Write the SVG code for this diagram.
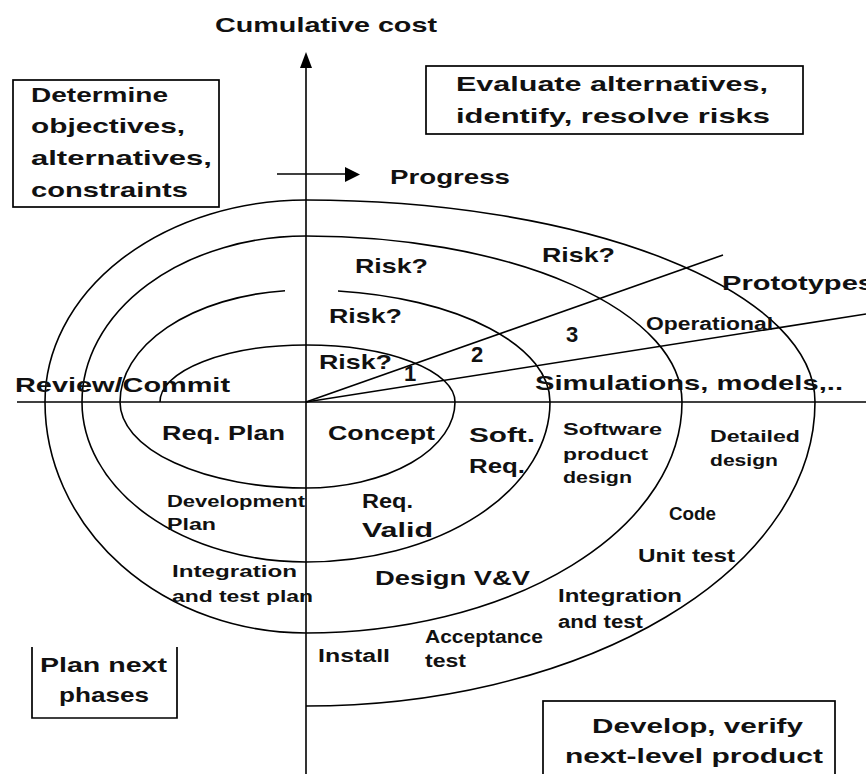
<svg xmlns="http://www.w3.org/2000/svg" width="866" height="774" viewBox="0 0 866 774">
  <style>
    .ln { fill: none; stroke: #000; stroke-width: 1.6; }
    .box { fill: none; stroke: #000; stroke-width: 1.7; }
    text { font-family: "Liberation Sans", Arial, sans-serif; font-weight: bold; fill: #111; }
    .lg { font-size: 21px; }
    .md { font-size: 18px; }
    .sm { font-size: 16px; }
    .num { font-size: 22px; }
  </style>
  <rect width="866" height="774" fill="#fff"/>

  <!-- axes, spiral and radial lines -->
  <g id="connectors">
    <path class="ln" d="M306,774 V66"/>
    <path d="M300,68 L306,52 L312,68 Z" fill="#000"/>
    <path class="ln" d="M17,402 H866"/>
    <path class="ln" d="M277,174 H348"/>
    <path d="M345,167 L360,174.5 L345,182 Z" fill="#000"/>
    <!-- clockwise spiral built from quarter ellipses around the origin -->
    <path class="ln" d="M160,402 A146,57 0 0 1 306,345 A149,57 0 0 1 455,402 A149,86 0 0 1 306,488 A186,86 0 0 1 120,402 A186,112 0 0 1 285,290.7"/>
    <path class="ln" d="M338,291 A244,112 0 0 1 550,402 A244,160 0 0 1 306,562 A224,160 0 0 1 82,402 A224,166 0 0 1 306,236 A376,166 0 0 1 682,402 A376,231 0 0 1 306,633 A261,231 0 0 1 45,402 A261,202 0 0 1 306,200 A509,202 0 0 1 815,402 A509,304 0 0 1 306,706"/>
    <path class="ln" d="M306,402 L723,255"/>
    <path class="ln" d="M306,402 L866,314"/>
  </g>

  <g id="axis-cost">
    <text class="lg" x="215" y="32" textLength="222" lengthAdjust="spacingAndGlyphs">Cumulative cost</text>
  </g>
  <g id="axis-progress">
    <text class="lg" x="390" y="184" textLength="120" lengthAdjust="spacingAndGlyphs">Progress</text>
  </g>

  <g id="quadrant-objectives">
    <rect class="box" x="13" y="80" width="206" height="127"/>
    <text class="lg" x="31" y="102" textLength="137" lengthAdjust="spacingAndGlyphs">Determine</text>
    <text class="lg" x="31" y="133" textLength="154" lengthAdjust="spacingAndGlyphs">objectives,</text>
    <text class="lg" x="31" y="165" textLength="181" lengthAdjust="spacingAndGlyphs">alternatives,</text>
    <text class="lg" x="31" y="197" textLength="157" lengthAdjust="spacingAndGlyphs">constraints</text>
  </g>

  <g id="quadrant-evaluate">
    <rect class="box" x="426" y="66" width="377" height="68"/>
    <text class="lg" x="456" y="91" textLength="312" lengthAdjust="spacingAndGlyphs">Evaluate alternatives,</text>
    <text class="lg" x="456" y="123" textLength="314" lengthAdjust="spacingAndGlyphs">identify, resolve risks</text>
  </g>

  <g id="quadrant-plan">
    <path class="box" d="M32,647 V718 H177 V647"/>
    <text class="lg" x="40" y="672" textLength="127" lengthAdjust="spacingAndGlyphs">Plan next</text>
    <text class="lg" x="59" y="702" textLength="90" lengthAdjust="spacingAndGlyphs">phases</text>
  </g>

  <g id="quadrant-develop">
    <rect class="box" x="543" y="701" width="292" height="90"/>
    <text class="lg" x="592" y="733" textLength="211" lengthAdjust="spacingAndGlyphs">Develop, verify</text>
    <text class="lg" x="565" y="763" textLength="258" lengthAdjust="spacingAndGlyphs">next-level product</text>
  </g>

  <g id="review-commit">
    <text class="lg" x="15" y="392" textLength="215" lengthAdjust="spacingAndGlyphs">Review/Commit</text>
  </g>

  <g id="risk-analysis">
    <text class="lg" x="542" y="262" textLength="73" lengthAdjust="spacingAndGlyphs">Risk?</text>
    <text class="lg" x="355" y="273" textLength="73" lengthAdjust="spacingAndGlyphs">Risk?</text>
    <text class="lg" x="329" y="323" textLength="73" lengthAdjust="spacingAndGlyphs">Risk?</text>
    <text class="lg" x="319" y="369" textLength="73" lengthAdjust="spacingAndGlyphs">Risk?</text>
  </g>

  <g id="prototypes">
    <text class="num" x="404" y="381">1</text>
    <text class="num" x="471" y="362">2</text>
    <text class="num" x="566" y="342">3</text>
    <text class="md" x="646" y="330" textLength="127" lengthAdjust="spacingAndGlyphs">Operational</text>
    <text class="lg" x="722" y="290" textLength="152" lengthAdjust="spacingAndGlyphs">Prototypes</text>
    <text class="lg" x="535" y="390" textLength="308" lengthAdjust="spacingAndGlyphs">Simulations, models,..</text>
  </g>

  <g id="req-plan">
    <text class="lg" x="162" y="440" textLength="123" lengthAdjust="spacingAndGlyphs">Req. Plan</text>
  </g>
  <g id="concept">
    <text class="lg" x="328" y="440" textLength="107" lengthAdjust="spacingAndGlyphs">Concept</text>
  </g>
  <g id="soft-req">
    <text class="lg" x="469" y="442" textLength="66" lengthAdjust="spacingAndGlyphs">Soft.</text>
    <text class="lg" x="469" y="473" textLength="56" lengthAdjust="spacingAndGlyphs">Req.</text>
  </g>
  <g id="product-design">
    <text class="sm" x="563" y="435" textLength="99" lengthAdjust="spacingAndGlyphs">Software</text>
    <text class="sm" x="563" y="460" textLength="85" lengthAdjust="spacingAndGlyphs">product</text>
    <text class="sm" x="563" y="483" textLength="69" lengthAdjust="spacingAndGlyphs">design</text>
  </g>
  <g id="detailed-design">
    <text class="sm" x="710" y="442" textLength="90" lengthAdjust="spacingAndGlyphs">Detailed</text>
    <text class="sm" x="710" y="466" textLength="68" lengthAdjust="spacingAndGlyphs">design</text>
  </g>
  <g id="code">
    <text class="md" x="669" y="520" textLength="47" lengthAdjust="spacingAndGlyphs">Code</text>
  </g>
  <g id="unit-test">
    <text class="md" x="638" y="562" textLength="97" lengthAdjust="spacingAndGlyphs">Unit test</text>
  </g>
  <g id="integration-test">
    <text class="md" x="558" y="602" textLength="124" lengthAdjust="spacingAndGlyphs">Integration</text>
    <text class="md" x="558" y="628" textLength="85" lengthAdjust="spacingAndGlyphs">and test</text>
  </g>
  <g id="acceptance-test">
    <text class="md" x="425" y="643" textLength="118" lengthAdjust="spacingAndGlyphs">Acceptance</text>
    <text class="md" x="425" y="667" textLength="41" lengthAdjust="spacingAndGlyphs">test</text>
  </g>
  <g id="install">
    <text class="md" x="318" y="662" textLength="72" lengthAdjust="spacingAndGlyphs">Install</text>
  </g>
  <g id="design-vv">
    <text class="lg" x="375" y="585" textLength="155" lengthAdjust="spacingAndGlyphs">Design V&amp;V</text>
  </g>
  <g id="req-valid">
    <text class="lg" x="362" y="508" textLength="51" lengthAdjust="spacingAndGlyphs">Req.</text>
    <text class="lg" x="362" y="537" textLength="71" lengthAdjust="spacingAndGlyphs">Valid</text>
  </g>
  <g id="development-plan">
    <text class="sm" x="167" y="507" textLength="138" lengthAdjust="spacingAndGlyphs">Development</text>
    <text class="sm" x="167" y="530" textLength="49" lengthAdjust="spacingAndGlyphs">Plan</text>
  </g>
  <g id="integration-plan">
    <text class="sm" x="172" y="577" textLength="125" lengthAdjust="spacingAndGlyphs">Integration</text>
    <text class="sm" x="172" y="602" textLength="141" lengthAdjust="spacingAndGlyphs">and test plan</text>
  </g>
</svg>
